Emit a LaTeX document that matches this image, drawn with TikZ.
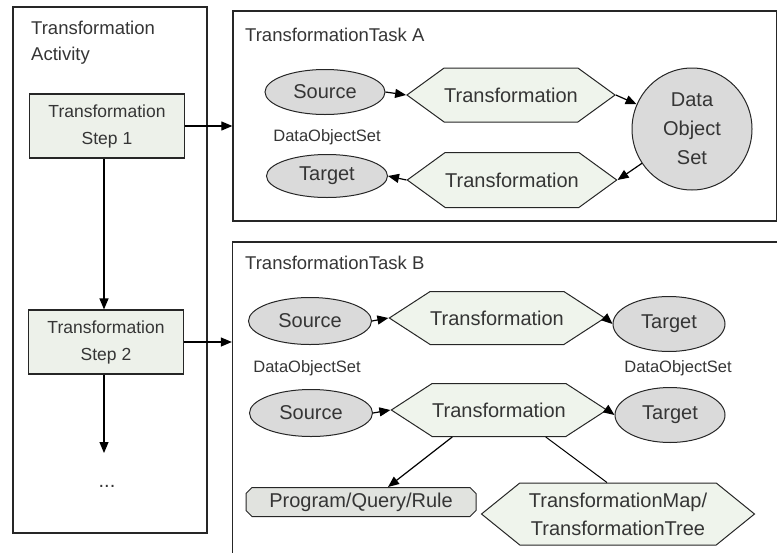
\documentclass[tikz,border=0pt]{standalone}
\usepackage{fontspec}
\setmainfont{Liberation Sans}
\usetikzlibrary{arrows.meta,shapes.geometric,shapes.symbols,shapes.misc,calc}

\definecolor{ink}{HTML}{353535}
\definecolor{stepfill}{HTML}{EDF1EA}
\definecolor{hexfill}{HTML}{EFF4EC}
\definecolor{ovalfill}{HTML}{DADADA}
\definecolor{progfill}{HTML}{E1E3DF}

\tikzset{
  frame/.style={draw=black!85, line width=1.3pt, inner sep=0pt},
  stepbox/.style={draw=black!85, line width=1.2pt, fill=stepfill, text=ink,
    align=center, inner sep=0pt, minimum width=155pt, minimum height=64pt,
    font=\fontsize{17.5}{27}\selectfont},
  oval/.style={ellipse, draw=black!85, line width=1pt, fill=ovalfill, text=ink,
    inner sep=0pt, font=\fontsize{20}{24}\selectfont},
  hexa/.style={signal, signal to=west and east, draw=black!85, line width=1pt,
    fill=hexfill, text=ink, inner sep=0pt, align=center,
    font=\fontsize{20}{28}\selectfont},
  caption/.style={text=ink, inner sep=0pt, font=\fontsize{18.5}{26}\selectfont},
  small/.style={text=ink, inner sep=0pt, font=\fontsize{16.5}{20}\selectfont},
  flow/.style={draw=black, line width=1.2pt,
    -{Triangle[length=11pt,width=9pt]}},
  link/.style={draw=black, line width=1pt},
}

\begin{document}
\begin{tikzpicture}[x=1pt,y=-1pt]
\useasboundingbox (0,0) rectangle (777,552);

% activity column
\node[frame, minimum width=194pt, minimum height=526pt] (act) at (110,270) {};
\node[caption, anchor=north west, align=left] (acttitle) at (31,21)
  {Transformation\\Activity};
\node[stepbox] (step1) at (107,126) {Transformation\\Step 1};
\node[stepbox] (step2) at (106,342) {Transformation\\Step 2};
\coordinate (more) at (104,453);
\node[text=ink, inner sep=0pt, font=\fontsize{20}{24}\selectfont] (dots) at (107,486) {...};

% task frames
\node[frame, minimum width=544pt, minimum height=210pt] (taskA) at (505,116) {};
\node[frame, minimum width=545pt, minimum height=330pt] (taskB) at (505,407) {};
\node[caption, anchor=west] (titleA) at (245,35) {TransformationTask A};
\node[caption, anchor=west] (titleB) at (245,263) {TransformationTask B};

% task A
\node[oval, minimum width=120pt, minimum height=45pt] (srcA) at (325,92) {Source};
\node[hexa, minimum width=177pt, minimum height=54pt, signal pointer angle=72] (trA1) at (511,95) {Transformation};
\node[oval, minimum width=120pt, minimum height=122pt, align=center,
  font=\fontsize{20}{29}\selectfont] (dos) at (692,129) {Data\\Object\\Set};
\node[small] (lblA) at (327,137) {DataObjectSet};
\node[oval, minimum width=121pt, minimum height=43pt] (tgtA) at (327,176) {Target};
\node[hexa, minimum width=179pt, minimum height=55pt, signal pointer angle=72] (trA2) at (512,180) {Transformation};

\draw[flow] (srcA.east) -- (trA1.west);
\draw[flow] (trA1.east) -- (dos);
\draw[flow] (dos) -- (trA2.east);
\draw[flow] (trA2.west) -- (tgtA.east);

% task B
\node[oval, minimum width=123pt, minimum height=47pt] (srcB1) at (310,321) {Source};
\node[hexa, minimum width=178pt, minimum height=53pt, signal pointer angle=66] (trB1) at (497,318) {Transformation};
\node[oval, minimum width=112pt, minimum height=55pt] (tgtB1) at (669,324) {Target};
\node[small] (lblB1) at (307,368) {DataObjectSet};
\node[small] (lblB2) at (678,368) {DataObjectSet};
\node[oval, minimum width=123pt, minimum height=47pt] (srcB2) at (311,413) {Source};
\node[hexa, minimum width=178pt, minimum height=53pt, signal pointer angle=66] (trB2) at (499,410) {Transformation};
\node[oval, minimum width=110pt, minimum height=55pt] (tgtB2) at (670,415) {Target};
\node[chamfered rectangle, chamfered rectangle xsep=3pt, chamfered rectangle ysep=3pt,
  draw=black!85, line width=1pt, fill=progfill, text=ink, inner sep=0pt,
  minimum width=230pt, minimum height=29pt, font=\fontsize{20}{24}\selectfont]
  (prog) at (361,502) {Program/Query/Rule};
\node[hexa, minimum width=273pt, minimum height=62pt, signal pointer angle=78] (tmap) at (618,514)
  {TransformationMap/\\TransformationTree};

\draw[flow] (srcB1.east) -- (trB1.west);
\draw[flow] (trB1.east) -- (tgtB1.west);
\draw[flow] (srcB2.east) -- (trB2.west);
\draw[flow] (trB2.east) -- (tgtB2.west);
\draw[flow] (trB2.210) -- ($(prog.north)+(27,0)$);
\draw[link] (trB2.330) -- ($(tmap.north)+(-11,0)$);

% activity flow
\draw[flow] (step1.east) -- (step1.east -| taskA.west);
\draw[flow] (step2.east) -- (step2.east -| taskB.west);
\draw[flow] (step1.south -| more) -- (step2.north -| more);
\draw[flow] (step2.south -| more) -- (more);
\end{tikzpicture}
\end{document}
